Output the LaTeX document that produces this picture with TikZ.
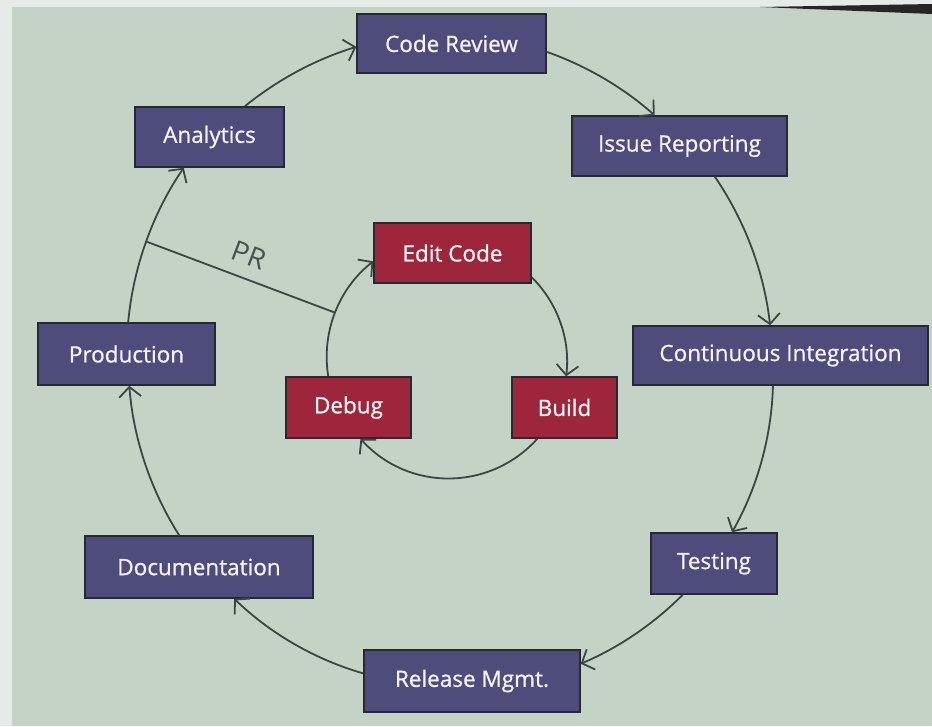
\documentclass[tikz,border=0pt]{standalone}
\usepackage{fontspec}
\setmainfont{Open Sans}
\newfontfamily\boxfont[FakeBold=0.9]{Open Sans}
\usetikzlibrary{arrows.meta}
\definecolor{bg}{RGB}{197,211,199}
\definecolor{boxblue}{RGB}{78,76,122}
\definecolor{boxred}{RGB}{158,38,60}
\definecolor{edgec}{RGB}{38,42,48}
\definecolor{linec}{RGB}{58,70,64}
\definecolor{prc}{RGB}{72,82,78}
\begin{document}
\begin{tikzpicture}[x=1pt,y=1pt,
  box/.style={draw=edgec, line width=1.4pt, text=white!90!gray,
    font=\boxfont\fontsize{22.5}{26}\selectfont, inner sep=0pt, anchor=center},
  outerbox/.style={box, fill=boxblue},
  innerbox/.style={box, fill=boxred},
  conn/.style={draw=linec, line width=1.8pt,
    -{Straight Barb[length=10pt,width=22pt,line width=1.8pt]}, looseness=0.86},
  plainline/.style={draw=linec, line width=1.8pt}]
\useasboundingbox (0,0) rectangle (932,-726);
\fill[bg] (0,0) rectangle (932,-726);
\fill[white!55!bg] (0,0) rectangle (932,-7);
\fill[white!55!bg] (0,0) rectangle (12,-726);
\fill[black!85] (760,-7) -- (932,-4) -- (932,-14) -- cycle;

% outer cycle
\node[outerbox, minimum width=189pt, minimum height=59pt] (cr)  at (451.5,-43.5) {Code Review};
\node[outerbox, minimum width=149pt, minimum height=60pt] (an)  at (209.5,-137)  {Analytics};
\node[outerbox, minimum width=215pt, minimum height=60pt] (ir)  at (679.5,-146)  {Issue Reporting};
\node[outerbox, minimum width=295pt, minimum height=59pt] (ci)  at (780.5,-355.5) {Continuous Integration};
\node[outerbox, minimum width=126pt, minimum height=61pt] (te)  at (714,-563.5)  {Testing};
\node[outerbox, minimum width=216pt, minimum height=62pt] (rm)  at (472,-681)    {Release Mgmt.};
\node[outerbox, minimum width=228pt, minimum height=62pt] (doc) at (199,-567)    {Documentation};
\node[outerbox, minimum width=177pt, minimum height=62pt] (pr)  at (126.5,-354)  {Production};
% inner cycle
\node[innerbox, minimum width=157pt, minimum height=60pt] (ec)  at (452.5,-253)  {Edit Code};
\node[innerbox, minimum width=125pt, minimum height=61pt] (db)  at (348.5,-407.5) {Debug};
\node[innerbox, minimum width=105pt, minimum height=61pt] (bu)  at (564.5,-407.5) {Build};

% outer connectors
\draw[conn] (cr.-5.7)   to[bend left=11]   (ir.129.2);
\draw[conn] (ir.-41.8)  to[bend left=14]   (ci.109.6);
\draw[conn] (ci.-104.3) to[bend left=14]   (te.60.9);
\draw[conn] (te.-135.5) to[bend left=11]   (rm.9.5);
\draw[conn] (rm.176.8)  to[bend left=14]   (doc.-42.4);
\draw[conn] (doc.122.3) to[bend left=14]   (pr.-85.4);
\draw[conn] (pr.87.2)   to[bend left=14.5] coordinate[pos=0.5] (pa) (an.-130.4);
\draw[conn] (an.41.8)   to[bend left=11]   (cr.182.1);
% inner connectors
\draw[conn, looseness=0.9]  (ec.-17)    to[bend left=26]   (bu.87.2);
\draw[conn, looseness=1.03] (bu.-131)   to[bend left=48]   (db.-69.3);
\draw[conn, looseness=0.92] (db.123.9)  to[bend left=30.5] coordinate[pos=0.5] (pb) (ec.186.5);
% PR link
\draw[plainline] (pa) -- node[sloped, above=9pt, text=prc,
  font=\fontsize{28}{32}\selectfont] {PR} (pb);
\end{tikzpicture}
\end{document}
